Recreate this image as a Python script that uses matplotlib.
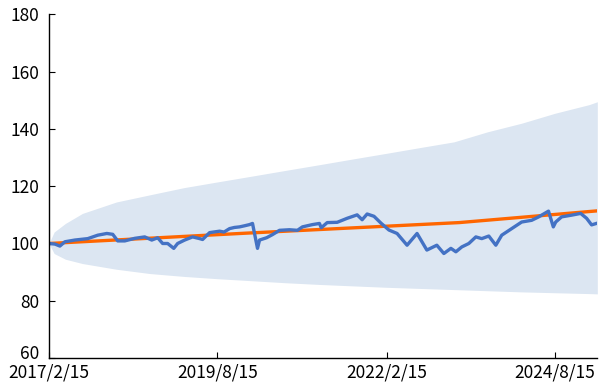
import matplotlib.pyplot as plt
import matplotlib.transforms as mtransforms
import pandas as pd

plt.rcParams['font.family'] = ['Noto Sans CJK JP', 'DejaVu Sans']

# band (upper / lower edge)
band_dates = pd.to_datetime([
    '2017-02-15', '2017-03-15', '2017-05-15', '2017-08-15', '2018-02-15',
    '2018-08-15', '2019-02-15', '2019-08-15', '2020-02-15', '2020-08-15',
    '2021-02-15', '2021-08-15', '2022-02-15', '2022-08-15', '2023-02-15',
    '2023-08-15', '2024-02-15', '2024-08-15', '2025-02-15', '2025-03-31'])
band_upper = [100, 104, 107, 110.5, 114.5, 117, 119.5, 121.5, 123.5, 125.5,
              127.5, 129.5, 131.5, 133.5, 135.5, 139, 142, 145.5, 148.5, 149.5]
band_lower = [100, 96.5, 94.5, 93, 91, 89.5, 88.5, 87.7, 87, 86.3,
              85.7, 85.2, 84.7, 84.3, 83.9, 83.5, 83.1, 82.8, 82.5, 82.4]

# orange expected line
exp_dates = pd.to_datetime(['2017-02-15', '2020-01-15', '2023-03-15', '2025-03-31'])
exp_vals = [100, 103.6, 107.3, 111.4]

# blue actual index
act_dates = pd.to_datetime([
    '2017-02-15', '2017-03-19', '2017-04-15', '2017-05-12', '2017-07-05',
    '2017-09-13', '2017-11-06', '2017-12-25', '2018-01-26', '2018-02-22',
    '2018-04-01', '2018-05-25', '2018-07-18', '2018-08-25', '2018-09-26',
    '2018-10-23', '2018-11-19', '2018-12-22', '2019-01-12', '2019-02-19',
    '2019-04-03', '2019-05-11', '2019-05-27', '2019-07-04', '2019-08-27',
    '2019-09-20', '2019-10-20', '2019-11-15', '2019-12-13', '2020-01-10',
    '2020-02-05', '2020-02-21', '2020-03-19',
    '2020-03-30', '2020-05-07', '2020-06-08', '2020-07-16', '2020-09-08',
    '2020-10-21', '2020-11-17', '2021-01-10', '2021-02-17', '2021-02-27',
    '2021-03-31', '2021-05-24', '2021-07-17', '2021-09-09', '2021-10-06',
    '2021-11-02', '2021-12-09', '2022-01-16', '2022-02-28', '2022-04-13',
    '2022-06-06', '2022-07-30', '2022-09-21', '2022-11-14', '2022-12-22',
    '2023-01-29', '2023-02-25', '2023-03-29', '2023-05-06', '2023-06-13',
    '2023-07-15', '2023-08-22', '2023-09-29', '2023-10-31', '2023-12-24',
    '2024-02-16', '2024-04-10', '2024-05-18', '2024-07-10', '2024-08-05',
    '2024-08-18', '2024-09-19', '2024-11-12', '2024-12-31', '2025-02-01',
    '2025-02-28', '2025-03-31'])
act_vals = [
    100, 99.8, 99.1, 100.6, 101.2,
    101.7, 102.9, 103.5, 103.2, 100.9,
    100.9, 101.8, 102.3, 101.2, 102,
    100, 100, 98.3, 100, 101.2,
    102.3, 101.7, 101.4, 103.8, 104.3,
    104.0, 105.2, 105.6, 105.8, 106.2,
    106.6, 107, 98.3,
    101.2, 102, 103.1, 104.6, 104.8,
    104.6, 105.8, 106.6, 107, 105.5,
    107.3, 107.4, 108.8, 110, 108.3,
    110.3, 109.5, 107.1, 104.7, 103.5,
    99.4, 103.5, 97.7, 99.4, 96.5,
    98.3, 97.1, 98.8, 100, 102.3,
    101.7, 102.6, 99.4, 102.9, 105.2,
    107.5, 108.1, 109.3, 111.3, 105.8,
    107.5, 109.3, 109.9, 110.5, 108.8,
    106.5, 107.1]

yticks = [60, 80, 100, 120, 140, 160, 180]
xticks = pd.to_datetime(['2017-02-15', '2019-08-15', '2022-02-15', '2024-08-15'])
xlabels = ['2017/2/15', '2019/8/15', '2022/2/15', '2024/8/15']

fig = plt.figure(figsize=(6.12, 3.9), dpi=100)
ax = fig.add_axes([0.080, 0.082, 0.896, 0.881])

ax.fill_between(band_dates, band_lower, band_upper, color='#DCE6F2', lw=0)
ax.plot(exp_dates, exp_vals, color='#FF6600', lw=2.4)
ax.plot(act_dates, act_vals, color='#4472C4', lw=2.4)

ax.set_ylim(60, 180)
ax.set_xlim(pd.Timestamp('2017-02-15'), pd.Timestamp('2025-03-31'))
ax.set_yticks(yticks)
ax.set_xticks(xticks)
ax.set_xticklabels(xlabels)
ax.tick_params(direction='in', labelsize=12.5, colors='black', length=4, width=0.8)
ax.tick_params(axis='y', pad=7)
ax.tick_params(axis='x', pad=4)
for s in ['top', 'right']:
    ax.spines[s].set_visible(False)
for s in ['left', 'bottom']:
    ax.spines[s].set_color('black')
    ax.spines[s].set_linewidth(1)

# lift the "60" label a little so it clears the first date label
lift = mtransforms.ScaledTranslation(0, 4 / 72, fig.dpi_scale_trans)
lbl60 = ax.get_yticklabels()[0]
lbl60.set_transform(lbl60.get_transform() + lift)

fig.savefig('out.png', dpi=100)
